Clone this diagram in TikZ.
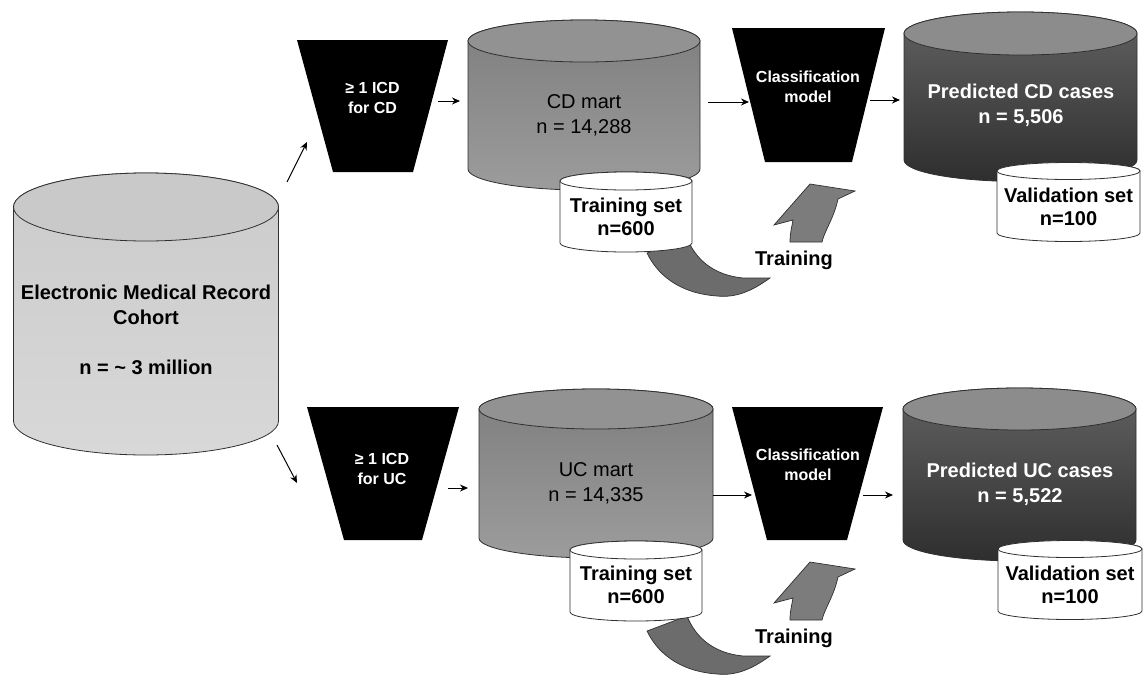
\documentclass[tikz,border=0pt]{standalone}
\usepackage{fontspec}
\setmainfont{Liberation Sans}
\usetikzlibrary{arrows.meta}
\definecolor{emrtop}{HTML}{C9C9C9}
\definecolor{emrbodyA}{HTML}{CBCBCB}
\definecolor{emrbodyB}{HTML}{D8D8D8}
\definecolor{marttop}{HTML}{929292}
\definecolor{martbodyA}{HTML}{7E7E7E}
\definecolor{martbodyB}{HTML}{9C9C9C}
\definecolor{predtop}{HTML}{8C8C8C}
\definecolor{predbodyA}{HTML}{626262}
\definecolor{predbodyB}{HTML}{2E2E2E}
\definecolor{bandgray}{HTML}{6C6C6C}
\definecolor{upgray}{HTML}{7C7C7C}
\definecolor{edgegray}{HTML}{303030}
% #1 cx, #2 top cy, #3 bottom cy, #4 rx, #5 ry, #6 body top colour, #7 body bottom colour, #8 lid colour
\newcommand{\mydrum}[8]{%
  \draw[line width=0.8pt, draw=edgegray, top color=#6, bottom color=#7]
    (#1-#4,-#2) -- (#1-#4,-#3)
    arc[start angle=180, end angle=360, x radius=#4, y radius=#5]
    -- (#1+#4,-#2)
    arc[start angle=0, end angle=180, x radius=#4, y radius=#5] -- cycle;
  \draw[line width=0.8pt, draw=edgegray, fill=#8] (#1,-#2) ellipse[x radius=#4, y radius=#5];
}
\begin{document}
\begin{tikzpicture}[x=1pt, y=1pt,
  hold/.style={rectangle, draw=none, inner sep=0pt, outer sep=0pt},
  arr/.style={-{Stealth[length=8pt, width=7pt]}, line width=1pt, black},
  funnelshape/.style={fill=black},
  bandshape/.style={fill=bandgray, draw=edgegray, line width=0.7pt},
  upshape/.style={fill=upgray, draw=edgegray, line width=0.7pt},
  big/.style={font=\fontsize{20}{25}\selectfont\bfseries, align=center, inner sep=0pt},
  bigreg/.style={font=\fontsize{20}{25}\selectfont, align=center, inner sep=0pt},
  setlbl/.style={font=\fontsize{20}{23}\selectfont\bfseries, align=center, inner sep=0pt},
  small/.style={font=\fontsize{16}{20}\selectfont\bfseries, align=center, inner sep=0pt, text=white},
  whitebig/.style={big, text=white}]
\useasboundingbox (0,0) rectangle (1144,-675);

% ---------- cylinders (large) ----------
\mydrum{146}{207}{421}{132.5}{34}{emrbodyA}{emrbodyB}{emrtop}
\mydrum{584}{41}{169}{116}{21}{martbodyA}{martbodyB}{marttop}
\mydrum{596}{409}{538}{117}{20}{martbodyA}{martbodyB}{marttop}
\mydrum{1020.5}{33.5}{160}{116.5}{21.5}{predbodyA}{predbodyB}{predtop}
\mydrum{1019.5}{409}{540}{116.5}{21}{predbodyA}{predbodyB}{predtop}

% ---------- funnels ----------
\fill[funnelshape] (297,-40) -- (448,-40) -- (413,-172) -- (333,-172) -- cycle;
\fill[funnelshape] (307,-407) -- (459,-407) -- (422,-540) -- (344,-540) -- cycle;
\fill[funnelshape] (732,-28) -- (885,-28) -- (852,-162) -- (765,-162) -- cycle;
\fill[funnelshape] (732,-407) -- (883,-407) -- (847,-540) -- (767,-540) -- cycle;

% ---------- training arrows ----------
\foreach \dy in {0,378}{
  \draw[bandshape] (687,-238-\dy) .. controls (695,-258-\dy) and (712,-275-\dy) .. (743,-278-\dy)
    -- (770,-278-\dy) .. controls (752,-291-\dy) and (736,-298-\dy) .. (717,-296-\dy)
    .. controls (686,-294-\dy) and (660,-280-\dy) .. (647,-253-\dy) -- cycle;
  \draw[upshape] (790,-242-\dy) .. controls (790,-233-\dy) and (792,-226-\dy) .. (793,-220-\dy)
    -- (774,-225-\dy) -- (810,-184-\dy) -- (855,-191-\dy) -- (838,-199-\dy)
    .. controls (834,-218-\dy) and (824,-232-\dy) .. (822,-242-\dy) -- cycle;
}

% ---------- small cylinders ----------
\mydrum{626}{181}{243}{66}{9}{white}{white}{white}
\mydrum{636}{550}{612}{66}{9}{white}{white}{white}
\mydrum{1068.5}{171}{233}{71.5}{8.5}{white}{white}{white}
\mydrum{1070}{549}{611}{72}{8.5}{white}{white}{white}

% ---------- shape holders ----------
\node[hold, minimum width=265, minimum height=282] (emr) at (146,-314) {};
\node[hold, minimum width=151, minimum height=132] (f1) at (372.5,-106) {};
\node[hold, minimum width=152, minimum height=133] (f2) at (383,-473.5) {};
\node[hold, minimum width=232, minimum height=170] (cd) at (584,-105) {};
\node[hold, minimum width=234, minimum height=169] (uc) at (596,-473.5) {};
\node[hold, minimum width=153, minimum height=134] (c1) at (808.5,-95) {};
\node[hold, minimum width=151, minimum height=133] (c2) at (807.5,-473.5) {};
\node[hold, minimum width=233, minimum height=168] (p1) at (1020.5,-96) {};
\node[hold, minimum width=233, minimum height=172] (p2) at (1019.5,-474) {};

% ---------- texts ----------
\node[big] (emrtxt) at (146,-330) {Electronic Medical Record\\Cohort\\[24.5pt]n = \char"7E{} 3 million};
\node[small] (f1txt) at (372.5,-98) {≥ 1 ICD\\for CD};
\node[small] (f2txt) at (382,-469) {≥ 1 ICD\\for UC};
\node[bigreg] (cdtxt) at (584,-115.5) {CD mart\\n = 14,288};
\node[bigreg] (uctxt) at (596,-483.5) {UC mart\\n = 14,335};
\node[setlbl] (ts1txt) at (626,-216.5) {Training set\\n=600};
\node[setlbl] (ts2txt) at (636,-584.5) {Training set\\n=600};
\node[small] (c1txt) at (808,-87) {Classification\\model};
\node[small] (c2txt) at (808,-465) {Classification\\model};
\node[whitebig] (p1txt) at (1021,-105.5) {Predicted CD cases\\n = 5,506};
\node[whitebig] (p2txt) at (1020,-484) {Predicted UC cases\\n = 5,522};
\node[setlbl] (v1txt) at (1068.5,-206.5) {Validation set\\n=100};
\node[setlbl] (v2txt) at (1070,-585) {Validation set\\n=100};
\node[big] (tr1) at (794,-260) {Training};
\node[big] (tr2) at (794,-638) {Training};

% ---------- connectors ----------
\draw[arr] ([shift={(8.5,-9)}]emr.north east) -- ([shift={(10,30)}]f1.south west);
\draw[arr] ([shift={(-1.5,10)}]emr.south east) -- ([shift={(-10,-9.5)}]f2.west);
\draw[arr] ([shift={(-10,5)}]f1.east) -- ([shift={(-8,4)}]cd.west);
\draw[arr] ([shift={(-11,-14.5)}]f2.east) -- ([shift={(-11,-14.5)}]uc.west);
\draw[arr] ([shift={(8,3)}]cd.east) -- ([shift={(17,-7)}]c1.west);
\draw[arr] ([shift={(0,-21.5)}]uc.east) -- ([shift={(20,-21.5)}]c2.west);
\draw[arr] ([shift={(-15,-5)}]c1.east) -- ([shift={(-4,-4)}]p1.west);
\draw[arr] ([shift={(-20,-21.5)}]c2.east) -- ([shift={(-10,-21)}]p2.west);
\end{tikzpicture}
\end{document}
